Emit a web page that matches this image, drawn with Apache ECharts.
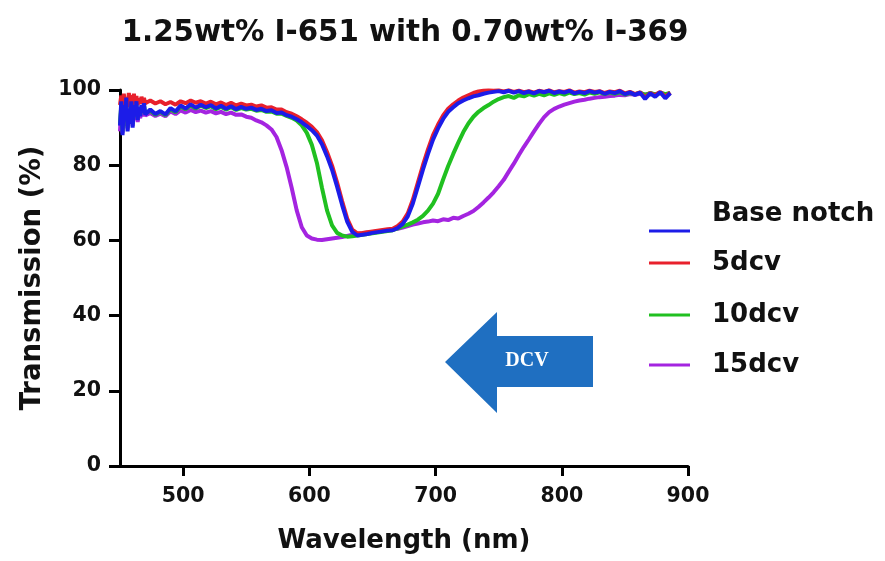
<!DOCTYPE html>
<html>
<head>
<meta charset="utf-8">
<script src="https://cdn.jsdelivr.net/npm/echarts@6/dist/echarts.min.js"></script>
<style>html,body{margin:0;padding:0;background:#fff;}#main{width:885px;height:561px;}</style>
</head>
<body>
<div id="main"></div>
<script>
// Wavelengths (nm)
const wavelength = [
  450,451,452,453,454,455,456,457,458,459,460,461,462,463,464,465,466,467,468,469,470,
  474,478,482,486,490,494,498,502,506,510,
  514,518,522,526,530,534,538,542,546,550,
  554,558,562,566,570,574,578,582,586,590,
  594,598,602,606,610,614,618,622,626,630,
  634,638,642,646,650,654,658,662,666,670,
  674,678,682,686,690,694,698,702,706,710,
  714,718,722,726,730,734,738,742,746,750,
  754,758,762,766,770,774,778,782,786,790,
  794,798,802,806,810,814,818,822,826,830,
  834,838,842,846,850,854,858,862,866,870,
  874,878,882,886
];
// Transmission (%)
const baseNotch = [
  90.5,97,88,96,92,98,89,95,91,97,90,96,93,97,92,95.5,93,96,94,96.5,93.5,
  94.8,93.6,94.4,93.5,95.2,94.3,95.9,95.1,96.2,95.3,
  96.1,95.4,96,95.1,95.8,95,95.7,94.9,95.5,95,
  95.3,94.7,95,94.4,94.6,93.9,94,93.3,92.9,92.2,
  91.4,90.4,89.3,87.9,85.6,82.4,78.8,74.3,69.4,65,
  62.3,61.3,61.5,61.7,62,62.2,62.4,62.6,62.7,63.3,
  64.4,66.4,69.8,74.3,78.8,83,86.8,89.8,92.3,94.2,
  95.4,96.5,97.2,97.8,98.3,98.6,99,99.3,99.5,99.7,
  99.4,99.8,99.3,99.7,99.2,99.6,99.1,99.7,99.4,99.8,
  99.2,99.6,99.3,99.8,99.1,99.5,99.2,99.7,99.3,99.6,
  99,99.5,99.2,99.7,98.9,99.4,98.7,99.3,97.6,99.1,
  98.2,99.4,97.8,99.2
];
const dcv5 = [
  96,98.5,95,99,96.5,98,95.5,99.2,96,98.6,95.8,99,96.4,98.4,96,97.8,96.3,98.2,96.6,97.9,96.5,
  97.2,96.4,97,96.2,96.8,96.1,97,96.5,97.2,96.6,
  97,96.4,96.9,96.2,96.7,96,96.6,95.9,96.4,95.9,
  96.1,95.6,95.9,95.3,95.4,94.8,94.8,94.1,93.7,93,
  92.2,91.3,90.2,88.8,86.6,83.5,79.9,75.4,70.4,65.8,
  62.9,61.9,62,62.2,62.4,62.6,62.8,63,63.1,63.8,
  65,67.2,70.8,75.4,80,84.2,88,90.8,93.2,95,
  96.2,97.2,98,98.6,99.2,99.6,99.8,99.9,99.8,99.9,
  99.6,99.9,99.5,99.8,99.4,99.7,99.3,99.8,99.5,99.9,
  99.4,99.7,99.5,99.9,99.3,99.6,99.4,99.8,99.5,99.7,
  99.2,99.6,99.4,99.8,99.1,99.5,98.9,99.4,98,99.2,
  98.6,99.5,98.2,99.3
];
const dcv10 = [
  91,96,89,95,92.5,97,90,94.5,91.5,96,91,95.5,93,96,92.5,95,93.5,95.5,94,96,93.8,
  94.5,93.4,94.2,93.3,94.9,94.1,95.6,94.9,95.9,95.1,
  95.8,95.2,95.7,94.9,95.5,94.8,95.4,94.7,95.2,94.8,
  95,94.5,94.7,94.2,94.3,93.7,93.7,93.1,92.6,91.9,
  90.6,88.6,85.4,80.6,74,68,64,62,61.3,61,
  61.1,61.3,61.5,61.7,61.9,62.1,62.3,62.5,62.7,63.2,
  63.7,64.2,64.8,65.5,66.5,67.9,69.8,72.4,76.2,79.8,
  83,86,88.8,91.1,92.9,94.2,95.2,96,96.9,97.6,
  98.1,98.4,97.9,98.6,98.3,98.9,98.5,99,98.6,99.1,
  98.7,99.2,98.8,99.3,98.9,99.2,98.8,99.3,99,99.4,
  98.9,99.3,99,99.4,98.8,99.2,98.9,99.3,98.7,99.2,
  98.8,99.3,98.9,99.2
];
const dcv15 = [
  89,95.5,88.5,94,90.5,96,89.5,93.5,91,95,90.5,94.5,92,95,91.5,94,92.5,94.5,93,94.8,93.2,
  93.9,93.1,93.7,93,94.3,93.6,94.6,94,94.7,94.1,
  94.5,94,94.4,93.8,94.2,93.6,94,93.4,93.5,92.9,
  92.6,91.9,91.4,90.6,89.5,87.5,84,79.5,74,68,
  63.5,61.3,60.5,60.2,60.1,60.3,60.5,60.7,60.9,61.2,
  61.5,61.7,61.9,62.1,62.2,62.4,62.5,62.7,62.9,63.1,
  63.4,63.8,64.2,64.5,64.8,65,65.3,65.1,65.6,65.4,
  66,65.8,66.5,67.1,67.8,68.9,70.1,71.4,72.8,74.4,
  76.1,78.3,80.4,82.7,84.9,86.9,89,91,92.8,94.1,
  95,95.6,96.1,96.5,96.9,97.2,97.4,97.7,97.9,98.1,
  98.2,98.4,98.5,98.7,98.6,98.9,98.7,99,98.8,99.1,
  98.9,99.2,98.9,99.1
];
const seriesNames = ['Base notch', '5dcv', '10dcv', '15dcv'];
const seriesColors = ['#1c1ce8', '#e8202c', '#20c020', '#a424e0'];
const xTicks = [500, 600, 700, 800, 900];

const FONT = 'DejaVu Sans';
const pair = arr => wavelength.map((w, i) => [w, arr[i]]);
const seriesData = [baseNotch, dcv5, dcv10, dcv15];

// drawing order: 15dcv, 10dcv, 5dcv, Base notch (on top)
const drawOrder = [3, 2, 1, 0];
const series = drawOrder.map(i => ({
  name: seriesNames[i],
  type: 'line',
  data: pair(seriesData[i]),
  showSymbol: false,
  symbol: 'none',
  clip: true,
  lineStyle: { color: seriesColors[i], width: 4 },
  itemStyle: { color: seriesColors[i] },
  animation: false
}));

const legendTops = [197, 248, 300, 350];
const legends = seriesNames.map((n, i) => ({
  data: [n],
  left: 649,
  top: legendTops[i],
  padding: 0,
  icon: 'rect',
  itemWidth: 41,
  itemHeight: 3,
  selectedMode: false,
  formatter: i === 0 ? (name => name + '\n\u00a0') : (name => name),
  textStyle: {
    fontFamily: FONT, fontWeight: 'bold', fontSize: 26, color: '#111',
    lineHeight: i === 0 ? 34 : 30,
    padding: [0, 0, 0, 17]
  }
}));

const chart = echarts.init(document.getElementById('main'), null, { renderer: 'canvas' });
chart.setOption({
  backgroundColor: '#fff',
  animation: false,
  title: {
    text: '1.25wt% I-651 with 0.70wt% I-369',
    left: 400,
    top: 14,
    textAlign: 'center',
    textStyle: { fontFamily: FONT, fontWeight: 'bold', fontSize: 29.3, color: '#111' }
  },
  grid: { left: 120, right: 197, top: 90, bottom: 95, containLabel: false },
  legend: legends,
  xAxis: {
    type: 'value',
    min: 450, max: 900,
    name: 'Wavelength (nm)',
    nameLocation: 'middle',
    nameGap: 62,
    nameTextStyle: { fontFamily: FONT, fontWeight: 'bold', fontSize: 26, color: '#111' },
    axisLine: { show: true, onZero: false, lineStyle: { color: '#000', width: 3 } },
    axisTick: { show: true, customValues: xTicks, length: 10, lineStyle: { color: '#000', width: 3 } },
    axisLabel: { customValues: xTicks, margin: 20, fontFamily: FONT, fontWeight: 'bold', fontSize: 20.5, color: '#111' },
    splitLine: { show: false }
  },
  yAxis: {
    type: 'value',
    min: 0, max: 100, interval: 20,
    name: 'Transmission (%)',
    nameLocation: 'middle',
    nameGap: 73,
    nameTextStyle: { fontFamily: FONT, fontWeight: 'bold', fontSize: 27.5, color: '#111' },
    axisLine: { show: true, lineStyle: { color: '#000', width: 3 } },
    axisTick: { show: true, length: 11, lineStyle: { color: '#000', width: 3 } },
    axisLabel: { margin: 19, fontFamily: FONT, fontWeight: 'bold', fontSize: 20.5, color: '#111' },
    splitLine: { show: false }
  },
  series: series,
  graphic: [
    {
      type: 'polygon',
      shape: { points: [[445, 362], [497, 312], [497, 336], [593, 336], [593, 387], [497, 387], [497, 413]] },
      style: { fill: '#1f6fc1' },
      z: 10
    },
    {
      type: 'text',
      x: 527, y: 361,
      style: {
        text: 'DCV', fill: '#fff', font: 'bold 20px "Liberation Serif", "DejaVu Serif", serif',
        textAlign: 'center', textVerticalAlign: 'middle'
      },
      z: 11
    }
  ]
});
</script>
</body>
</html>
